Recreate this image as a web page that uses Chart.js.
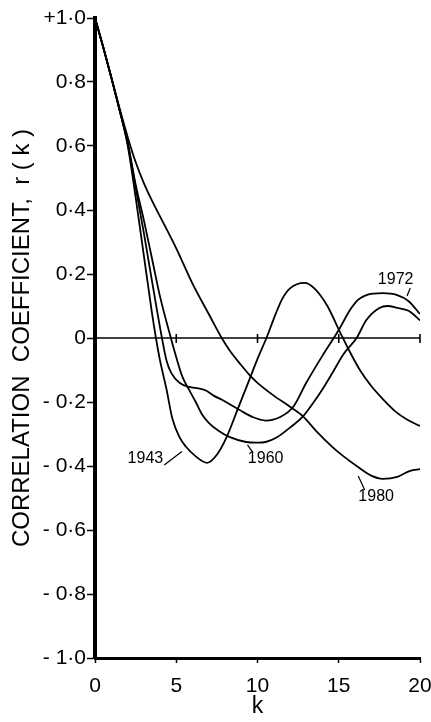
<!DOCTYPE html>
<html>
<head>
<meta charset="utf-8">
<script src="https://cdn.jsdelivr.net/npm/chart.js@4.4.1/dist/chart.umd.min.js"></script>
<style>
  html, body { margin: 0; padding: 0; background: #ffffff; }
  #wrap { width: 431px; height: 722px; position: relative; }
</style>
</head>
<body>
<div id="wrap"><canvas id="c"></canvas></div>
<script>
// ---- data ----
const k1943 = [0,0.5,1,1.5,2,2.5,3,3.5,3.75,4,4.4,4.75,5.2,5.6,6.2,6.9,7.5,8.1,8.8,9.5,10,10.55,11,11.5,12,12.9,13.5,14.3,15.1,15.7,16.3,17,17.7,18.5,19.2,20];
const r1943 = [1,0.91,0.815,0.715,0.605,0.44,0.26,0.08,0,-0.07,-0.16,-0.25,-0.31,-0.34,-0.37,-0.39,-0.365,-0.31,-0.22,-0.13,-0.065,0,0.06,0.12,0.155,0.172,0.155,0.1,0.016,-0.045,-0.1,-0.15,-0.19,-0.23,-0.255,-0.275];

const k1960 = [0,0.5,1,1.5,2,2.5,3,3.5,4,4.67,5,5.37,5.8,6.2,6.6,7,7.6,8.3,9.3,10,10.5,11.2,12,12.8,13.4,14,14.6,15.3,16.1,16.7,17.5,18,18.6,19.3,20];
const r1960 = [1,0.91,0.815,0.715,0.615,0.48,0.37,0.25,0.13,0,-0.06,-0.12,-0.163,-0.2,-0.24,-0.265,-0.29,-0.31,-0.325,-0.327,-0.325,-0.31,-0.28,-0.245,-0.205,-0.16,-0.11,-0.05,0,0.056,0.094,0.1,0.094,0.085,0.055];

const k1972 = [0,0.5,1,1.5,2,2.5,3,3.5,4.12,4.4,4.7,5.2,5.8,6.4,6.85,7.3,7.84,8.9,9.7,10.5,11.4,12.2,13,14,15,15.7,16.2,16.7,17.7,18.6,19.3,20];
const r1972 = [1,0.91,0.815,0.715,0.61,0.47,0.33,0.18,0,-0.07,-0.11,-0.14,-0.153,-0.158,-0.165,-0.18,-0.194,-0.225,-0.247,-0.258,-0.247,-0.215,-0.14,-0.055,0.025,0.088,0.12,0.134,0.14,0.134,0.115,0.075];

const k1980 = [0,0.5,1,1.5,2,2.5,3,3.5,4,5,6,7,7.8,8.3,9,9.5,10,11,12,12.8,13.6,14.6,15.3,16.1,17,17.7,18.6,19.4,20];
const r1980 = [1,0.91,0.815,0.72,0.63,0.55,0.485,0.43,0.38,0.28,0.17,0.075,0,-0.04,-0.085,-0.115,-0.14,-0.18,-0.215,-0.245,-0.29,-0.34,-0.37,-0.4,-0.43,-0.44,-0.434,-0.415,-0.41];

const seriesNames = ['1943','1960','1972','1980'];
const xTicks = [0,5,10,15,20];
const yTickLabels = {'1':'+1·0','0.8':'0·8','0.6':'0·6','0.4':'0·4','0.2':'0·2','0':'0',
  '-0.2':'- 0·2','-0.4':'- 0·4','-0.6':'- 0·6','-0.8':'- 0·8','-1':'- 1·0'};

// curve labels: text position and leader line (data coordinates)
const labelText = ['1943','1960','1972','1980'];
const labelK    = [3.1, 10.5, 18.5, 17.3];
const labelR    = [-0.378, -0.378, 0.181, -0.497];
const leadK1    = [4.26, 9.38, 19.4, 16.2];
const leadR1    = [-0.397, -0.334, 0.156, -0.431];
const leadK2    = [5.35, 9.69, 19.2, 16.6];
const leadR2    = [-0.355, -0.356, 0.131, -0.475];

function pts(ks, rs) { return ks.map((k, i) => ({x: k, y: rs[i]})); }

const FONT = '"Liberation Sans", Arial, sans-serif';

const zeroLinePlugin = {
  id: 'zeroLine',
  beforeDatasetsDraw(chart) {
    const {ctx, scales: {x, y}} = chart;
    const y0 = y.getPixelForValue(0);
    ctx.save();
    ctx.strokeStyle = '#000';
    ctx.lineWidth = 1.6;
    ctx.beginPath();
    ctx.moveTo(x.getPixelForValue(0), y0);
    ctx.lineTo(x.getPixelForValue(20), y0);
    ctx.stroke();
    xTicks.forEach(v => {
      if (v === 0) return;
      const px = x.getPixelForValue(v);
      ctx.beginPath();
      ctx.moveTo(px, y0 - 4);
      ctx.lineTo(px, y0 + 5);
      ctx.stroke();
    });
    ctx.restore();
  }
};

const labelPlugin = {
  id: 'curveLabels',
  afterDatasetsDraw(chart) {
    const {ctx, scales: {x, y}} = chart;
    ctx.save();
    ctx.strokeStyle = '#000';
    ctx.fillStyle = '#000';
    ctx.lineWidth = 1.2;
    ctx.font = '16px ' + FONT;
    ctx.textAlign = 'center';
    ctx.textBaseline = 'middle';
    labelText.forEach((t, i) => {
      ctx.fillText(t, x.getPixelForValue(labelK[i]), y.getPixelForValue(labelR[i]));
      ctx.beginPath();
      ctx.moveTo(x.getPixelForValue(leadK1[i]), y.getPixelForValue(leadR1[i]));
      ctx.lineTo(x.getPixelForValue(leadK2[i]), y.getPixelForValue(leadR2[i]));
      ctx.stroke();
    });
    ctx.restore();
  }
};

const datasets = [
  {label: seriesNames[0], data: pts(k1943, r1943)},
  {label: seriesNames[1], data: pts(k1960, r1960)},
  {label: seriesNames[2], data: pts(k1972, r1972)},
  {label: seriesNames[3], data: pts(k1980, r1980)}
].map(d => Object.assign(d, {
  borderColor: '#000', borderWidth: 1.8, pointRadius: 0, fill: false,
  cubicInterpolationMode: 'monotone'
}));

new Chart(document.getElementById('c'), {
  type: 'line',
  data: {datasets},
  options: {
    responsive: true,
    maintainAspectRatio: false,
    animation: false,
    events: [],
    layout: {padding: {left: 0, right: 11, top: 18, bottom: 0}},
    plugins: {legend: {display: false}, tooltip: {enabled: false}},
    scales: {
      x: {
        type: 'linear', min: 0, max: 20,
        afterBuildTicks: s => { s.ticks = xTicks.map(v => ({value: v})); },
        afterFit: s => { s.height = 64; s.paddingLeft = 0; s.paddingRight = 0; },
        border: {display: true, color: '#000', width: 3},
        grid: {drawOnChartArea: false, drawTicks: true, tickLength: 5, tickColor: '#000', tickWidth: 1.5},
        ticks: {color: '#000', font: {family: FONT, size: 21}, padding: 11, maxRotation: 0,
                callback: v => String(v)},
        title: {display: true, text: 'k', color: '#000', font: {family: FONT, size: 23},
                padding: {top: 0, bottom: 2}}
      },
      y: {
        type: 'linear', min: -1, max: 1,
        afterBuildTicks: s => { s.ticks = Object.keys(yTickLabels).map(Number).sort((a,b)=>a-b).map(v => ({value: v})); },
        afterFit: s => { s.width = 95; s.paddingTop = 0; s.paddingBottom = 0; },
        border: {display: true, color: '#000', width: 4},
        grid: {drawOnChartArea: false, drawTicks: true, tickLength: 8, tickColor: '#000', tickWidth: 1.5},
        ticks: {color: '#000', font: {family: FONT, size: 21}, padding: 1,
                callback: v => yTickLabels[String(Math.round(v * 10) / 10)] || ''},
        title: {display: true, text: 'CORRELATION  COEFFICIENT,  r ( k )', color: '#000',
                font: {family: FONT, size: 24}, padding: {top: 8, bottom: 0}}
      }
    }
  },
  plugins: [zeroLinePlugin, labelPlugin]
});
</script>
</body>
</html>
